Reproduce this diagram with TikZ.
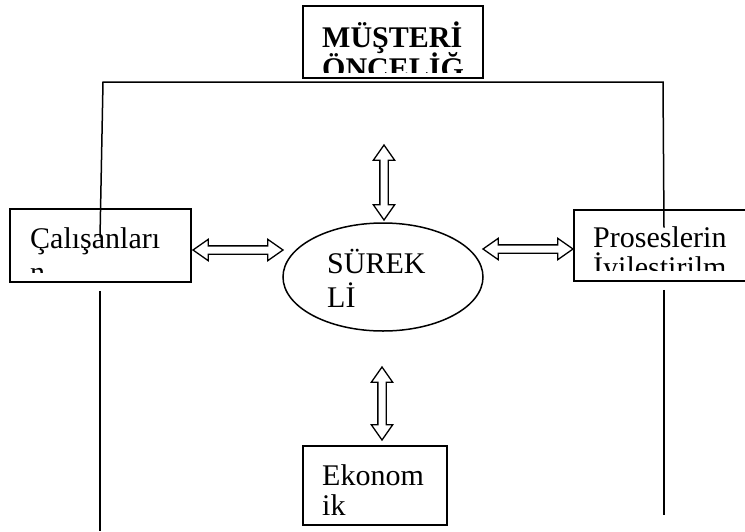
\documentclass[tikz,border=0pt]{standalone}
\usepackage{fontspec}
\setmainfont{Liberation Serif}
\usetikzlibrary{shapes.geometric,shapes.arrows,calc}
\begin{document}
\begin{tikzpicture}[x=1pt,y=-1pt,
  box/.style={draw,line width=1.5pt,rectangle,inner sep=0pt},
  wire/.style={line width=1.5pt},
  txt/.style={inner sep=0pt,anchor=base west,font=\fontsize{30}{34}\selectfont},
  btxt/.style={txt,font=\fontsize{30}{34}\selectfont\bfseries},
  dblarrow/.style={double arrow,draw,line width=1.3pt,inner xsep=0pt,inner ysep=3.5pt,
    double arrow head extend=6.5pt,double arrow tip angle=70,minimum height=#1}]
\useasboundingbox (0,0) rectangle (745,531);
\clip (0,0) rectangle (745,531);

% boxes and the central ellipse
\node[box,minimum width=180pt,minimum height=72pt] (top) at (393,42) {};
\node[box,minimum width=181pt,minimum height=73pt] (left) at (100.5,245.5) {};
\node[box,minimum width=180pt,minimum height=71pt] (right) at (664,245.5) {};
\node[box,minimum width=144pt,minimum height=79pt] (eko) at (375,485.5) {};
\node[ellipse,draw,line width=1.5pt,minimum width=200pt,minimum height=108pt,inner sep=0pt] (core) at (383,277) {};

% box texts, cut off at the inner edge of their boxes
\begin{scope}
  \clip (303,6) rectangle (483,72);
  \node[btxt] (t1) at (322,47) {MÜŞTERİ};
  \node[btxt] (t2) at (322,78) {ÖNCELİĞ};
\end{scope}
\begin{scope}
  \clip (10,209) rectangle (191,272);
  \node[txt] (l1) at (30,248) {Çalışanları};
  \node[txt] (l2) at (30,282) {n};
\end{scope}
\begin{scope}
  \clip (574,210) rectangle (754,270);
  \node[txt] (r1) at (593,247) {Proseslerin};
  \node[txt] (r2) at (593,277) {İyileştirilm};
\end{scope}
\node[txt] (c1) at (327,273) {SÜREK};
\node[txt] (c2) at (327,307) {Lİ};
\node[txt] (e1) at (322,485) {Ekonom};
\node[txt] (e2) at (322,515) {ik};

% double-headed block arrows around the ellipse
\node[dblarrow=90pt] (aleft) at (238,250) {};
\node[dblarrow=90pt] (aright) at (528,249) {};
\node[dblarrow=75pt,rotate=90] (aup) at (384,182.5) {};
\node[dblarrow=73pt,rotate=90] (adown) at (382,403.5) {};

% frame of connecting lines
\coordinate (tl) at (103,82);
\coordinate (tr) at (663,82);
\coordinate (lin) at ($(left.center)+(-0.5,-8)$);
\coordinate (rin) at ($(right.center)+(0,-18)$);
\coordinate (lend) at (100,531);
\coordinate (rend) at (664,515);
\draw[wire] (lin) -- (tl) -- (tr) -- (rin);
\draw[wire] ($(left.south)+(-0.5,8)$) -- (lend);
\draw[wire] ($(right.south)+(0,8)$) -- (rend);
\end{tikzpicture}
\end{document}
